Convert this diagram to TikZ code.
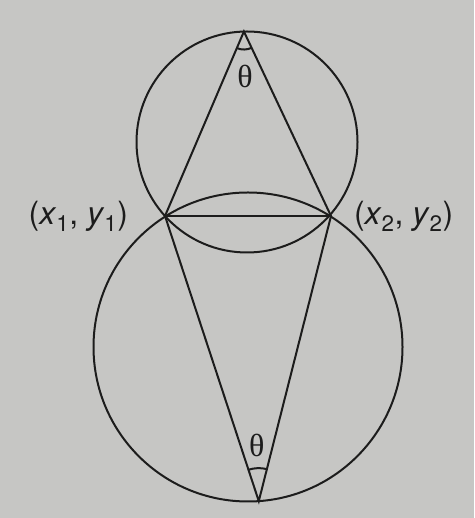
\documentclass[tikz,border=0pt]{standalone}
\usepackage{fontspec}
\usetikzlibrary{positioning,angles,calc}
\newfontfamily\labelfont{TeX Gyre Heros}
\newfontfamily\thetafont{Liberation Serif}
\definecolor{paper}{RGB}{198,198,196}
\definecolor{ink}{RGB}{28,28,28}

\begin{document}
\begin{tikzpicture}[x=1pt,y=1pt,line width=2pt,color=ink,
  lbl/.style={font=\labelfont\fontsize{32}{36}\selectfont,inner sep=0pt},
  ang/.style={font=\thetafont\fontsize{32}{36}\selectfont,inner sep=0pt}]
  \fill[paper] (0,0) rectangle (474,518);
  \useasboundingbox (0,0) rectangle (474,518);

  \coordinate (Ot) at (247,376);
  \coordinate (Ob) at (248,171);
  \coordinate (P1) at (165,302);
  \coordinate (P2) at (331,302);
  \coordinate (A) at ($(Ot)+(91.6:110.5)$);
  \coordinate (B) at ($(Ob)+(-86:154.5)$);

  \draw (Ot) circle (110.5);
  \draw (Ob) circle (154.5);

  \draw (A) -- (P1) -- (B) -- (P2) -- cycle;
  \draw (P1) -- (P2);

  \pic[draw,angle radius=18pt] {angle=P1--A--P2};
  \pic[draw,angle radius=33pt] {angle=P2--B--P1};

  \node[ang] (thA) at ($(A)+(1,-45)$) {θ};
  \node[ang] (thB) at ($(B)+(-2,56)$) {θ};
  \node[lbl,left=36pt of P1] (L1) {(\textit{x}\textsubscript{1}, \textit{y}\textsubscript{1})};
  \node[lbl,right=22pt of P2] (L2) {(\textit{x}\textsubscript{2}, \textit{y}\textsubscript{2})};
\end{tikzpicture}
\end{document}
